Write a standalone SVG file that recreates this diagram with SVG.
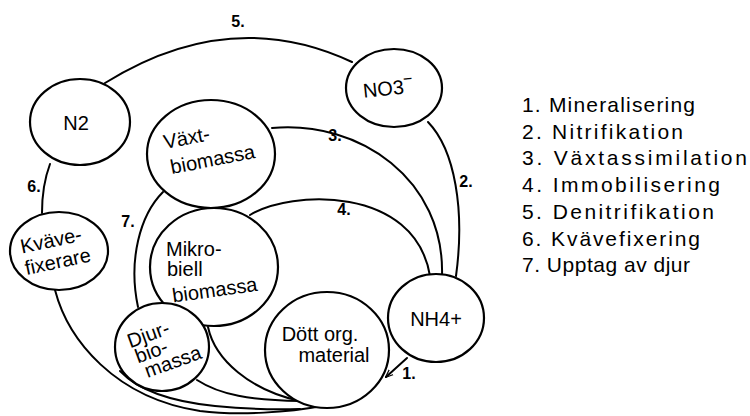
<svg xmlns="http://www.w3.org/2000/svg" width="750" height="416" viewBox="0 0 750 416">
<style>
.node{fill:#fff;stroke:#000;stroke-width:2.2}
.edge{fill:none;stroke:#000;stroke-width:2;stroke-linecap:round}
.t{font-family:"Liberation Sans",Arial,sans-serif;font-size:20px;fill:#000}
.lbl{font-family:"Liberation Sans",Arial,sans-serif;font-size:16px;font-weight:bold;fill:#000}
.leg{font-family:"Liberation Sans",Arial,sans-serif;font-size:21px;fill:#000}
</style>
<defs>
<marker id="arr" viewBox="0 0 10 10" refX="9" refY="5" markerWidth="8" markerHeight="8" orient="auto" markerUnits="userSpaceOnUse">
<path d="M0,1 L10,5 L0,9" fill="none" stroke="#000" stroke-width="1.5"/>
</marker>
</defs>
<rect width="750" height="416" fill="#fff"/>
<g id="connectors">
<path class="edge" d="M105,83 Q230,5 352,62"/>
<path class="edge" d="M272,128 C360,120 445,180 442,276"/>
<path class="edge" d="M428,122 C455,150 465,210 456,276"/>
<path class="edge" d="M250,215 C290,190 415,185 430,276"/>
<path class="edge" d="M50,164 C44,180 42,195 42,213"/>
<path class="edge" d="M163,192 C140,215 128,260 138,307"/>
<path class="edge" d="M55,290 C68,340 115,398 200,411 C240,416 290,412 322,406"/>
<path class="edge" d="M120,371 C140,392 175,402 215,406 C245,409 270,410 300,409"/>
<path class="edge" d="M197,380 C220,395 250,400 300,401"/>
<path class="edge" d="M208,327 C215,360 250,390 300,401"/>
<path class="edge" d="M407,358 L386,377" marker-end="url(#arr)"/>
<text class="lbl" x="238" y="27" text-anchor="middle">5.</text>
<text class="lbl" x="335" y="141" text-anchor="middle">3.</text>
<text class="lbl" x="466" y="187" text-anchor="middle">2.</text>
<text class="lbl" x="34" y="192" text-anchor="middle">6.</text>
<text class="lbl" x="128" y="227" text-anchor="middle">7.</text>
<text class="lbl" x="344" y="215" text-anchor="middle">4.</text>
<text class="lbl" x="409" y="379" text-anchor="middle">1.</text>
</g>
<g id="n2">
<ellipse class="node" cx="80" cy="122" rx="50" ry="43"/>
<text class="t" x="76" y="130" text-anchor="middle" font-size="22">N2</text>
</g>
<g id="no3">
<ellipse class="node" cx="394" cy="88" rx="48" ry="39"/>
<text class="t" x="388" y="95" text-anchor="middle" transform="rotate(-6 390 88)">NO3<tspan dy="-9" font-size="16">−</tspan></text>
</g>
<g id="vaxt">
<ellipse class="node" cx="211" cy="154" rx="64" ry="54"/>
<g transform="rotate(-11 212 150)">
<text class="t" x="166" y="140">Växt-</text>
<text class="t" x="168" y="166">biomassa</text>
</g>
</g>
<g id="kvavefixerare">
<ellipse class="node" cx="59" cy="251" rx="49" ry="39"/>
<g transform="rotate(-12 58 250)">
<text class="t" x="22" y="246" font-size="18">Kväve-</text>
<text class="t" x="22" y="268" font-size="18">fixerare</text>
</g>
</g>
<g id="mikro">
<ellipse class="node" cx="214" cy="267" rx="64" ry="59"/>
<text class="t" x="166" y="256">Mikro-</text>
<text class="t" x="167" y="276">biell</text>
<text class="t" x="172" y="296" transform="rotate(-8 220 290)">biomassa</text>
</g>
<g id="djur">
<ellipse class="node" cx="162" cy="347" rx="47" ry="44"/>
<g transform="rotate(-20 160 348)">
<text class="t" x="132" y="338" font-size="16">Djur-</text>
<text class="t" x="134" y="355" font-size="16">bio-</text>
<text class="t" x="138" y="372" font-size="16">massa</text>
</g>
</g>
<g id="dott">
<ellipse class="node" cx="327" cy="350" rx="62" ry="58"/>
<text class="t" x="320" y="341" text-anchor="middle" font-size="19">Dött org.</text>
<text class="t" x="334" y="362" text-anchor="middle" font-size="19">material</text>
</g>
<g id="nh4">
<ellipse class="node" cx="436" cy="318" rx="48" ry="44"/>
<text class="t" x="436" y="326" text-anchor="middle">NH4+</text>
</g>
<g id="legend">
<text class="leg" x="522" y="112" textLength="173" lengthAdjust="spacing">1. Mineralisering</text>
<text class="leg" x="522" y="139" textLength="161" lengthAdjust="spacing">2. Nitrifikation</text>
<text class="leg" x="522" y="165" textLength="225" lengthAdjust="spacing">3. Växtassimilation</text>
<text class="leg" x="522" y="192" textLength="198" lengthAdjust="spacing">4. Immobilisering</text>
<text class="leg" x="522" y="219" textLength="192" lengthAdjust="spacing">5. Denitrifikation</text>
<text class="leg" x="522" y="246" textLength="178" lengthAdjust="spacing">6. Kvävefixering</text>
<text class="leg" x="522" y="272" textLength="168" lengthAdjust="spacing">7. Upptag av djur</text>
</g>
</svg>
